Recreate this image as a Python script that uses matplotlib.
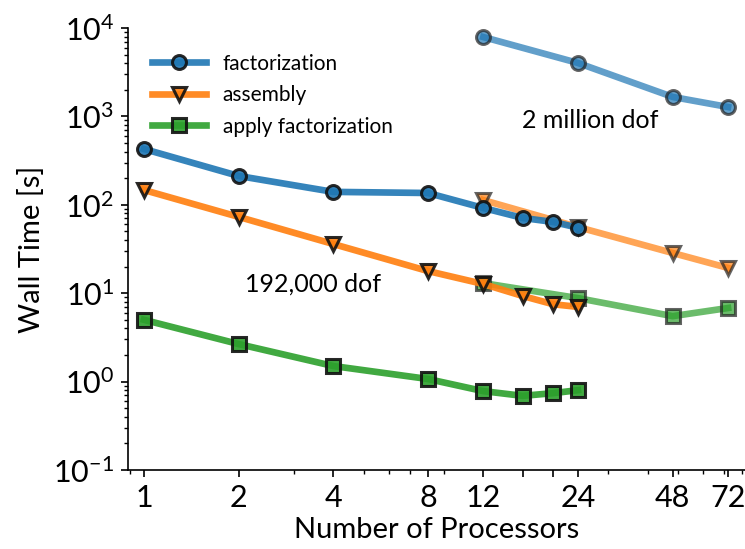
import matplotlib
matplotlib.use("Agg")
import matplotlib.pyplot as plt
from matplotlib.ticker import FixedLocator, LogLocator, NullFormatter

plt.rcParams['font.family'] = ['Lato', 'DejaVu Sans']
plt.rcParams['mathtext.fontset'] = 'custom'
plt.rcParams['mathtext.rm'] = 'Lato'
plt.rcParams['mathtext.it'] = 'Lato:italic'

# processors
procs_small = [1, 2, 4, 8, 12, 16, 20, 24]
procs_large = [12, 24, 48, 72]

# 192,000 dof
fact_small = [428, 212, 140, 136, 92, 71, 64, 55]
asm_small = [147, 73, 36, 17.8, 12.7, 9.3, 7.5, 7.0]
apply_small = [5.0, 2.66, 1.5, 1.07, 0.78, 0.69, 0.74, 0.80]

# 2 million dof
fact_large = [7900, 4020, 1660, 1277]
asm_large = [113, 56, 28.5, 19.3]
apply_large = [13.0, 8.8, 5.5, 6.8]

xticks = [1, 2, 4, 8, 12, 16, 20, 24, 48, 72]
xticklabels = ['1', '2', '4', '8', '12', '', '', '24', '48', '72']

fig = plt.figure(figsize=(7.45, 5.49), dpi=100)
ax = fig.add_axes([128/745, 1-470/549, 1-128/745, (470-28)/549])

blue, orange, green = '#1f77b4', '#ff7f0e', '#2ca02c'
lw, ms, mew = 4.8, 10, 2.2

# 2 million (lighter)
ax.plot(procs_large, fact_large, '-o', color=blue, lw=lw, ms=ms, mew=mew, mec='#222222', alpha=0.7, zorder=2)
ax.plot(procs_large, asm_large, '-v', color=orange, lw=lw, ms=ms, mew=mew, mec='#222222', alpha=0.7, zorder=2)
ax.plot(procs_large, apply_large, '-s', color=green, lw=lw, ms=ms, mew=mew, mec='#222222', alpha=0.7, zorder=2)

# 192,000
ax.plot(procs_small, fact_small, '-o', color=blue, lw=lw, ms=ms, mew=mew, mec='#111111', alpha=0.9, label='factorization', zorder=3)
ax.plot(procs_small, asm_small, '-v', color=orange, lw=lw, ms=ms, mew=mew, mec='#111111', alpha=0.9, label='assembly', zorder=3)
ax.plot(procs_small, apply_small, '-s', color=green, lw=lw, ms=ms, mew=mew, mec='#111111', alpha=0.9, label='apply factorization', zorder=3)

ax.set_xscale('log', base=2)
ax.set_yscale('log')
ax.set_xlim(0.89, 81.5)
ax.set_ylim(0.1, 1e4)

ax.xaxis.set_major_locator(FixedLocator(xticks))
ax.set_xticklabels(xticklabels)
ax.xaxis.set_minor_locator(LogLocator(base=10, subs=[2, 3, 4, 5, 6, 7, 8, 9]))
ax.xaxis.set_minor_formatter(NullFormatter())
ax.yaxis.set_major_locator(LogLocator(base=10, numticks=10))
ax.yaxis.set_minor_locator(LogLocator(base=10, subs=[2, 3, 4, 5, 6, 7, 8, 9], numticks=20))
ax.yaxis.set_minor_formatter(NullFormatter())

for s in ['top', 'right']:
    ax.spines[s].set_visible(False)
ax.spines['left'].set_linewidth(1.2)
ax.spines['bottom'].set_linewidth(1.2)
ax.tick_params(which='major', length=5, width=1.2, labelsize=22, pad=5)
ax.tick_params(which='minor', length=3, width=1.0)

ax.set_xlabel('Number of Processors', fontsize=21, labelpad=4)
ax.set_ylabel('Wall Time [s]', fontsize=21, labelpad=6)

ax.annotate('2 million dof', xy=(590/745, 1-120/549), xycoords='figure fraction',
            ha='center', va='center', fontsize=18)
ax.annotate('192,000 dof', xy=(313/745, 1-284/549), xycoords='figure fraction',
            ha='center', va='center', fontsize=18)

leg = ax.legend(loc='upper left', frameon=False, fontsize=15, handlelength=2.6,
                bbox_to_anchor=(0.015, 0.975), borderaxespad=0.3, labelspacing=0.55)

fig.savefig('out.png', dpi=100)
